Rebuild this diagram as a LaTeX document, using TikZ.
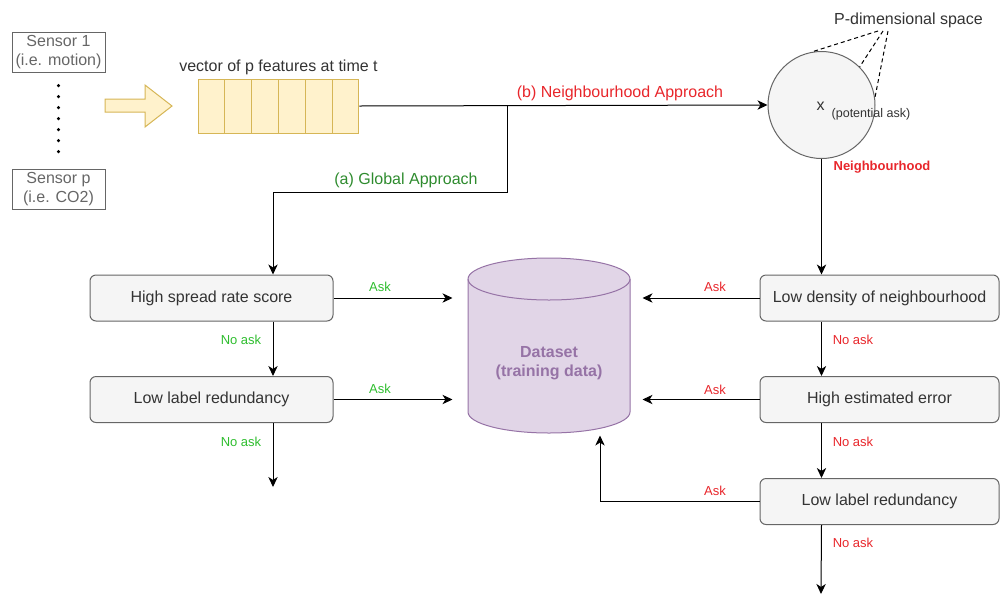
\documentclass[tikz,border=0pt]{standalone}
\usepackage{fontspec}
\setmainfont{Liberation Sans}
\usepackage{tikz}
\usetikzlibrary{arrows.meta,positioning,calc,shapes.geometric}
\definecolor{boxfill}{HTML}{F5F5F5}
\definecolor{boxline}{HTML}{666666}
\definecolor{boxtext}{HTML}{333333}
\definecolor{featfill}{HTML}{FFF2CC}
\definecolor{featline}{HTML}{D6B656}
\definecolor{datafill}{HTML}{E1D5E7}
\definecolor{dataline}{HTML}{9673A6}
\definecolor{askred}{HTML}{E8262B}
\definecolor{askgreen}{HTML}{2EBD2E}
\definecolor{globalgreen}{HTML}{2E8B2E}
\newcommand{\boxfont}{\fontsize{12}{14.25}\selectfont}
\newcommand{\tagfont}{\fontsize{9.75}{11}\selectfont}

\begin{document}
\begin{tikzpicture}[x=0.75pt, y=-0.75pt, line width=0.75pt,
  sensor/.style={draw=boxline, minimum width=69.75pt, minimum height=30pt, inner sep=1pt, align=center, font=\boxfont, text=boxline},
  feat/.style={draw=featline, fill=featfill, minimum width=20.1pt, minimum height=40.5pt, inner sep=0pt},
  test/.style={draw=boxline, fill=boxfill, rounded corners=4.5pt, minimum height=34.5pt, font=\boxfont, text=boxtext},
  flow/.style={-{Stealth[length=7.5pt, width=7pt, inset=2.2pt]}, black},
  askg/.style={font=\tagfont, text=askgreen},
  askr/.style={font=\tagfont, text=askred},
  sensordots/.style={line width=2.6pt, line cap=round, dash pattern=on 0pt off 8.25pt},
  guide/.style={dashed, dash pattern=on 3pt off 2.25pt, black},
]
  \useasboundingbox (0,0) rectangle (1000,597);

  % sensors and feature vector
  \node[sensor] (s1) at (58.5,52.5) {Sensor 1\\(i.e. motion)};
  \node[sensor] (sp) at (58.5,189) {Sensor p\\(i.e. CO2)};
  \draw[sensordots, shorten <=9.4pt, shorten >=5pt] (s1.south) -- (sp.north);

  \draw[featline, fill=featfill] (105,99) -- (145,99) -- (145,85) -- (172,106)
    -- (145,127) -- (145,112) -- (105,112) -- cycle;

  \foreach \i in {1,...,6}
    \node[feat] (feat\i) at ({198+26.83*(\i-0.5)},106) {};
  \node[font=\boxfont, text=boxtext] (vec) at (278.5,67) {vector of p features at time t};

  % p-dimensional space
  \node[circle, draw=boxline, fill=boxfill, minimum size=80.25pt, inner sep=0pt] (space) at (821.5,105) {};
  \node[font=\boxfont, text=boxtext, inner sep=0pt] (xpt) at (820.5,106) {x};
  \node[font=\fontsize{9.4}{11}\selectfont, text=boxtext, inner sep=0pt] (pot) at (871,114) {(potential ask)};
  \node[font=\boxfont, text=boxtext] (pdim) at (908.5,20) {P-dimensional space};
  \coordinate (apexA) at (878,31);
  \coordinate (apexB) at (883,31);
  \coordinate (apexC) at (888,31);
  \draw[guide] (apexA) -- (space.100);
  \draw[guide] (apexB) -- (space.45);
  \draw[guide] (apexC) -- (space.8);
  \node[font=\tagfont\bfseries, text=askred] (nbh) at (882,167) {Neighbourhood};

  % decision boxes
  \node[test, minimum width=182.25pt] (hs) at (211.5,298) {High spread rate score};
  \node[test, minimum width=182.25pt] (lr1) at (211.5,399.5) {Low label redundancy};
  \node[test, minimum width=179.25pt] (ld) at (879.5,298) {Low density of neighbourhood};
  \node[test, minimum width=179.25pt] (he) at (879.5,399.5) {High estimated error};
  \node[test, minimum width=179.25pt] (lr2) at (879.5,501.5) {Low label redundancy};

  % dataset
  \node[minimum width=121.5pt, minimum height=131.25pt, inner sep=0pt] (data) at (549,345.5) {};
  \draw[dataline, fill=datafill] (468,279) -- (468,412)
    arc[start angle=180, end angle=360, x radius=60.75pt, y radius=15.75pt] -- (630,279)
    arc[start angle=0, end angle=180, x radius=60.75pt, y radius=15.75pt] -- cycle;
  \draw[dataline] (468,279) arc[start angle=180, end angle=360, x radius=60.75pt, y radius=15.75pt];
  \node[font=\boxfont\bfseries, text=dataline, align=center] (datatxt) at (549,363) {Dataset\\(training data)};

  % approaches
  \coordinate (split) at (507,106);
  \coordinate (gdrop) at (273,192);
  \coordinate (gend) at (273,487);
  \coordinate (nend) at (821,594);
  \draw[flow] (feat6.east) -- (space.west);
  \draw[flow] (split) |- (gdrop) -- (gdrop |- hs.north);
  \node[font=\boxfont, text=askred] (nlab) at (620,93.5) {(b) Neighbourhood Approach};
  \node[font=\boxfont, text=globalgreen] (glab) at (406,180) {(a) Global Approach};
  \draw[flow] (space.south) -- (space |- ld.north);

  % global branch
  \draw[flow] (gdrop |- hs.south) -- (gdrop |- lr1.north);
  \draw[flow] (gdrop |- lr1.south) -- (gend);
  \draw[flow, shorten >=11.25pt] (hs.east) -- (hs.east -| data.west);
  \draw[flow, shorten >=11.25pt] (lr1.east) -- (lr1.east -| data.west);
  \node[askg] at (380,287) {Ask};
  \node[askg] at (380,389) {Ask};
  \node[askg] at (241,340) {No ask};
  \node[askg] at (241,442) {No ask};

  % neighbourhood branch
  \draw[flow] (space |- ld.south) -- (space |- he.north);
  \draw[flow] (space |- he.south) -- (space |- lr2.north);
  \draw[flow] (space |- lr2.south) -- (nend);
  \draw[flow, shorten >=9pt] (ld.west) -- (ld.west -| data.east);
  \draw[flow, shorten >=9pt] (he.west) -- (he.west -| data.east);
  \draw[flow] (lr2.west) -| ($(data.south)+(51,2)$);
  \node[askr] at (715,287) {Ask};
  \node[askr] at (715,390) {Ask};
  \node[askr] at (715,491) {Ask};
  \node[askr] at (853,340) {No ask};
  \node[askr] at (853,442) {No ask};
  \node[askr] at (853,543) {No ask};
\end{tikzpicture}
\end{document}
